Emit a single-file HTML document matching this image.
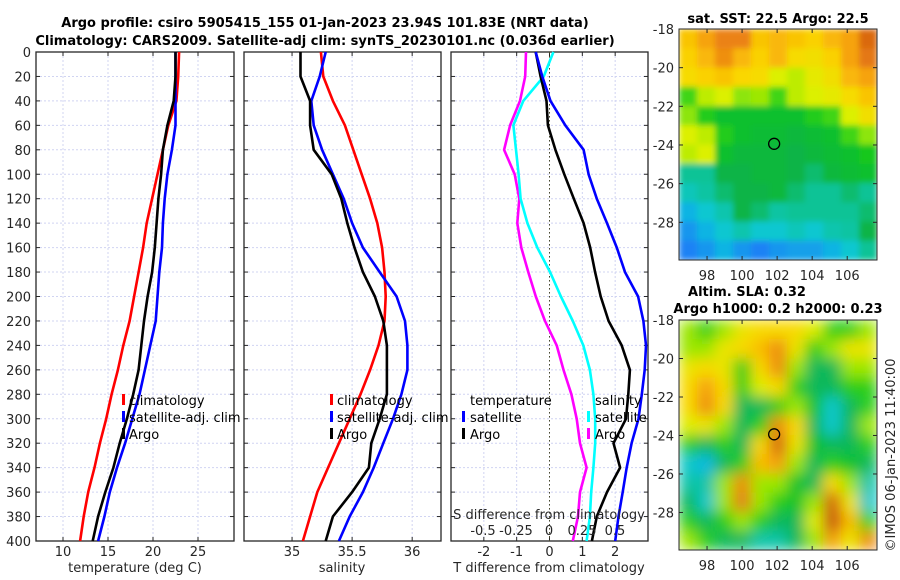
<!DOCTYPE html>
<html><head><meta charset="utf-8"><style>
html,body{margin:0;padding:0;background:#fff;}
svg{display:block;font-family:"DejaVu Sans","Liberation Sans",sans-serif;}
.tk{font-size:13px;fill:#262626;}
.ttl{font-size:13px;font-weight:bold;fill:#000;}
.lg{font-size:13px;fill:#000;}
</style></head><body>
<svg id="fig" width="900" height="580" viewBox="0 0 900 580" xmlns="http://www.w3.org/2000/svg">
<defs>
<filter id="blurS" x="0" y="0" width="1" height="1"><feGaussianBlur stdDeviation="3" edgeMode="duplicate"/></filter>
<filter id="blurL" x="0" y="0" width="1" height="1"><feGaussianBlur stdDeviation="7" edgeMode="duplicate"/></filter>
<clipPath id="c1"><rect x="679" y="29" width="198" height="231"/></clipPath>
<clipPath id="c2"><rect x="679" y="320" width="198" height="230"/></clipPath>
</defs>
<text class="ttl" x="325" y="27" text-anchor="middle">Argo profile: csiro 5905415_155 01-Jan-2023 23.94S 101.83E (NRT data)</text>
<text class="ttl" x="325" y="45" text-anchor="middle">Climatology: CARS2009. Satellite-adj clim: synTS_20230101.nc (0.036d earlier)</text>
<g id="root"></g>
</svg>
<script>
const depths=[0,20,40,60,80,100,120,140,160,180,200,220,240,260,280,300,320,340,360,380,400];
const tClim=[22.9,22.8,22.6,21.7,21.1,20.5,19.9,19.3,18.9,18.4,17.9,17.4,16.7,16.1,15.4,14.8,14.1,13.5,12.8,12.3,11.9];
const tSat=[22.5,22.5,22.5,22.5,22.1,21.6,21.3,21.1,21.0,20.7,20.5,20.3,19.7,19.1,18.5,17.7,16.9,16.0,15.2,14.6,13.9];
const tArgo=[22.5,22.5,22.3,21.6,21.1,20.9,20.6,20.4,20.2,19.9,19.4,19.0,18.7,18.4,17.8,17.1,16.3,15.6,14.7,13.9,13.3];
const sClim=[35.24,35.26,35.34,35.44,35.51,35.58,35.65,35.71,35.75,35.77,35.78,35.77,35.72,35.65,35.57,35.48,35.39,35.30,35.21,35.15,35.09];
const sSat=[35.28,35.23,35.16,35.18,35.25,35.34,35.43,35.50,35.59,35.73,35.87,35.94,35.96,35.96,35.91,35.84,35.76,35.68,35.59,35.48,35.39];
const sArgo=[35.07,35.07,35.15,35.15,35.18,35.33,35.41,35.46,35.52,35.59,35.69,35.76,35.79,35.79,35.79,35.73,35.66,35.64,35.50,35.34,35.28];
const dTsat=[-0.42,-0.22,0.03,0.48,1.04,1.19,1.44,1.75,2.05,2.3,2.7,2.86,2.94,2.9,2.81,2.71,2.5,2.35,2.23,2.1,2.0];
const dTargo=[-0.42,-0.27,-0.09,-0.05,0.18,0.45,0.74,1.04,1.24,1.39,1.56,1.8,2.2,2.45,2.4,2.33,1.95,2.15,1.75,1.44,1.29];
const dSsat=[0.033,-0.04,-0.195,-0.27,-0.25,-0.23,-0.215,-0.164,-0.089,0.008,0.09,0.18,0.26,0.31,0.336,0.35,0.35,0.336,0.32,0.31,0.285];
const dSargo=[-0.174,-0.18,-0.22,-0.295,-0.34,-0.26,-0.225,-0.24,-0.21,-0.157,-0.1,-0.03,0.058,0.11,0.17,0.21,0.235,0.285,0.235,0.22,0.18];
const depthTicks=[0,20,40,60,80,100,120,140,160,180,200,220,240,260,280,300,320,340,360,380,400];
const tTicks=[10,15,20,25];
const sTicks=[35,35.5,36];
const dtTicks=[-2,-1,0,1,2];
const dsTicks=[-0.5,-0.25,0,0.25,0.5];
const dsTickLabels=["-0.5","-0.25","0","0.25","0.5"];
const latTicks=[-18,-20,-22,-24,-26,-28];
const lonTicks=[98,100,102,104,106];
const sstGrid=[
[0.7,0.75,0.8,0.8,0.7,0.72,0.7,0.68,0.72,0.75,0.85],
[0.68,0.72,0.78,0.72,0.68,0.72,0.66,0.65,0.68,0.75,0.82],
[0.66,0.68,0.7,0.67,0.66,0.6,0.58,0.62,0.65,0.72,0.75],
[0.5,0.58,0.6,0.55,0.56,0.5,0.58,0.6,0.62,0.66,0.7],
[0.55,0.48,0.45,0.45,0.45,0.45,0.45,0.48,0.5,0.6,0.65],
[0.6,0.58,0.48,0.45,0.44,0.44,0.43,0.44,0.45,0.5,0.55],
[0.58,0.6,0.45,0.43,0.43,0.43,0.42,0.43,0.44,0.45,0.47],
[0.38,0.38,0.42,0.42,0.43,0.43,0.42,0.4,0.43,0.44,0.45],
[0.35,0.37,0.4,0.42,0.42,0.43,0.4,0.38,0.38,0.4,0.38],
[0.3,0.33,0.36,0.42,0.4,0.37,0.38,0.38,0.38,0.38,0.4],
[0.27,0.3,0.33,0.36,0.33,0.33,0.35,0.33,0.36,0.37,0.42],
[0.25,0.27,0.3,0.27,0.25,0.27,0.28,0.28,0.3,0.33,0.38]];
const slaGrid=[
[0.55,0.5,0.55,0.6,0.62,0.62,0.62,0.58,0.5,0.5,0.55],
[0.55,0.55,0.6,0.62,0.65,0.7,0.6,0.5,0.55,0.6,0.6],
[0.6,0.62,0.6,0.5,0.62,0.7,0.55,0.45,0.45,0.55,0.55],
[0.62,0.68,0.62,0.5,0.58,0.62,0.5,0.45,0.45,0.5,0.5],
[0.62,0.7,0.62,0.45,0.45,0.5,0.55,0.48,0.4,0.45,0.5],
[0.58,0.6,0.55,0.45,0.5,0.7,0.62,0.45,0.4,0.45,0.55],
[0.5,0.45,0.5,0.45,0.62,0.75,0.6,0.48,0.45,0.45,0.5],
[0.4,0.38,0.45,0.5,0.65,0.68,0.55,0.45,0.5,0.48,0.45],
[0.42,0.42,0.55,0.7,0.55,0.55,0.48,0.45,0.62,0.55,0.42],
[0.45,0.4,0.55,0.72,0.55,0.5,0.48,0.55,0.75,0.6,0.4],
[0.5,0.45,0.5,0.55,0.5,0.45,0.45,0.58,0.8,0.65,0.5],
[0.55,0.5,0.45,0.45,0.42,0.42,0.45,0.55,0.68,0.6,0.7]];
const argoLon=101.83, argoLat=-23.94;

const NS="http://www.w3.org/2000/svg";
const root=document.getElementById('root');
function mk(tag,attrs,parent){const e=document.createElementNS(NS,tag);for(const k in attrs)e.setAttribute(k,attrs[k]);(parent||root).appendChild(e);return e;}
const Y0=52,Y1=541;
const yD=d=>Y0+(d/400)*(Y1-Y0);
function panel(name,x0,x1,vmin,vmax){return {name,x0,x1,sx:v=>x0+(v-vmin)/(vmax-vmin)*(x1-x0)};}
const P1=panel('temperature-panel',36,234,7,29);
const P2=panel('salinity-panel',244,441,34.6,36.24);
const P3=panel('difference-panel',451,648,-3,3);
const sxS3=v=>549+v*132;

function frame(P,xt,xlabels,showY){
  const g=mk('g',{});
  
  
  xt.forEach(v=>{const x=P.sx(v);const l=mk('line',{x1:x,x2:x,y1:Y0,y2:Y1,stroke:'#d0d4f2','stroke-width':1,'stroke-dasharray':'2,2'},g);
    });
  depthTicks.forEach(d=>{const y=yD(d);const l=mk('line',{x1:P.x0,x2:P.x1,y1:y,y2:y,stroke:'#d0d4f2','stroke-width':1,'stroke-dasharray':'2,2'},g);
    
    mk('line',{x1:P.x0,x2:P.x0+4,y1:y,y2:y,stroke:'#262626'},g);
    mk('line',{x1:P.x1-4,x2:P.x1,y1:y,y2:y,stroke:'#262626'},g);
    if(showY){const t=mk('text',{x:P.x0-5,y:y+5,'text-anchor':'end',class:'tk'},g);t.textContent=d;
      }
  });
  xt.forEach((v,i)=>{const x=P.sx(v);mk('line',{x1:x,x2:x,y1:Y1,y2:Y1-4,stroke:'#262626'},g);mk('line',{x1:x,x2:x,y1:Y0,y2:Y0+4,stroke:'#262626'},g);
    const t=mk('text',{x:x,y:556,'text-anchor':'middle',class:'tk'},g);t.textContent=xlabels[i];
    });
  const r=mk('rect',{x:P.x0,y:Y0,width:P.x1-P.x0,height:Y1-Y0,fill:'none',stroke:'#262626','stroke-width':1.3},g);
  
  return g;
}
function line(vals,sx,color,name,w){
  const pts=vals.map((v,i)=>sx(v).toFixed(1)+','+yD(depths[i]).toFixed(1)).join(' ');
  const p=mk('polyline',{points:pts,fill:'none',stroke:color,'stroke-width':w||2.6,'stroke-linejoin':'round'});
  
  
}
function txt(x,y,s,cls,name,anchor){const t=mk('text',{x,y,class:cls,'text-anchor':anchor||'start'});t.textContent=s;
  return t;}
function legBar(x,y,color,name){const r=mk('rect',{x:x,y:y-11,width:3,height:11,fill:color});
  }

frame(P1,tTicks,tTicks.map(String),true);
frame(P2,sTicks,sTicks.map(String),false);
frame(P3,dtTicks,dtTicks.map(String),false);
const zl=mk('line',{x1:P3.sx(0),x2:P3.sx(0),y1:Y0,y2:Y1,stroke:'#4a4a2a','stroke-width':1,'stroke-dasharray':'1.5,2.5'});


line(tClim,P1.sx,'#ff0000','temp-climatology-line');
line(tSat,P1.sx,'#0000ff','temp-satellite-line');
line(tArgo,P1.sx,'#000000','temp-argo-line');
line(sClim,P2.sx,'#ff0000','sal-climatology-line');
line(sSat,P2.sx,'#0000ff','sal-satellite-line');
line(sArgo,P2.sx,'#000000','sal-argo-line');
line(dSargo,sxS3,'#ff00ff','sdiff-argo-line');
line(dSsat,sxS3,'#00ffff','sdiff-satellite-line');
line(dTargo,P3.sx,'#000000','tdiff-argo-line');
line(dTsat,P3.sx,'#0000ff','tdiff-satellite-line');

[[122,'#ff0000','climatology',405],[122,'#0000ff','satellite-adj. clim',422],[122,'#000','Argo',439]].forEach(a=>{legBar(a[0],a[3],a[1],'temp-legend-marker');txt(a[0]+7,a[3],a[2],'lg','temp-legend-entry');});
[[330,'#ff0000','climatology',405],[330,'#0000ff','satellite-adj. clim',422],[330,'#000','Argo',439]].forEach(a=>{legBar(a[0],a[3],a[1],'sal-legend-marker');txt(a[0]+7,a[3],a[2],'lg','sal-legend-entry');});
txt(470,405,'temperature','lg','diff-legend-temperature-header');
legBar(462,422,'#0000ff','diff-legend-marker');txt(470,422,'satellite','lg','diff-legend-entry');
legBar(462,439,'#000','diff-legend-marker');txt(470,439,'Argo','lg','diff-legend-entry');
txt(595,405,'salinity','lg','diff-legend-salinity-header');
legBar(587,422,'#00ffff','diff-legend-marker');txt(595,422,'satellite','lg','diff-legend-entry');
legBar(587,439,'#ff00ff','diff-legend-marker');txt(595,439,'Argo','lg','diff-legend-entry');
txt(549,519,'S difference from climatology','tk','s-diff-axis-title','middle');
dsTicks.forEach((v,i)=>txt(sxS3(v),535,dsTickLabels[i],'tk','s-diff-tick-label','middle'));

txt(135,572,'temperature (deg C)','tk','temperature-axis-title','middle');
txt(342,572,'salinity','tk','salinity-axis-title','middle');
txt(549,572,'T difference from climatology','tk','t-diff-axis-title','middle');

const stops=[[0.15,[10,40,220]],[0.25,[30,130,245]],[0.32,[10,200,220]],[0.38,[10,195,150]],[0.42,[10,180,70]],[0.47,[20,200,30]],[0.53,[110,225,10]],[0.6,[220,240,0]],[0.67,[250,215,0]],[0.74,[248,170,10]],[0.8,[235,130,20]],[0.9,[200,80,10]]];
function cmap(v){if(v<=stops[0][0])return 'rgb('+stops[0][1]+')';
  for(let i=1;i<stops.length;i++){if(v<=stops[i][0]){const a=stops[i-1],b=stops[i],t=(v-a[0])/(b[0]-a[0]);
    return 'rgb('+a[1].map((c,k)=>Math.round(c+(b[1][k]-c)*t)).join(',')+')';}}
  return 'rgb('+stops[stops.length-1][1]+')';}
function map(name,grid,x0,y0,w,h,filt,clip,contrast){
  const lonMin=96.4,lonMax=107.7,latTop=-18,latBot=-29.95;
  const mx=lon=>x0+(lon-lonMin)/(lonMax-lonMin)*w;
  const my=lat=>y0+(latTop-lat)/(latTop-latBot)*h;
  const g=mk('g',{});
  
  
  const cg=mk('g',{'clip-path':'url(#'+clip+')'},g);
  const ig=mk('g',{filter:'url(#'+filt+')'},cg);
  const rows=grid.length,cols=grid[0].length,cw=w/cols,ch=h/rows;
  grid.forEach((row,r)=>row.forEach((v,c)=>{const e=mk('rect',{x:x0+c*cw,y:y0+r*ch,width:cw+0.5,height:ch+0.5,fill:cmap(0.53+(v-0.53)*contrast)},ig);
    }));
  mk('rect',{x:x0,y:y0,width:w,height:h,fill:'none',stroke:'#262626','stroke-width':1},g);
  latTicks.forEach(l=>{const y=my(l);mk('line',{x1:x0,x2:x0+4,y1:y,y2:y,stroke:'#262626'},g);mk('line',{x1:x0+w-4,x2:x0+w,y1:y,y2:y,stroke:'#262626'},g);
    const t=mk('text',{x:x0-5,y:y+5,'text-anchor':'end',class:'tk'},g);t.textContent=l;
    });
  lonTicks.forEach(l=>{const x=mx(l);mk('line',{x1:x,x2:x,y1:y0+h,y2:y0+h-4,stroke:'#262626'},g);mk('line',{x1:x,x2:x,y1:y0,y2:y0+4,stroke:'#262626'},g);
    const t=mk('text',{x:x,y:y0+h+20,'text-anchor':'middle',class:'tk'},g);t.textContent=l;
    });
  const c=mk('circle',{cx:mx(argoLon),cy:my(argoLat),r:5.5,fill:'none',stroke:'#000','stroke-width':1.3},g);
  
}
map('sst-map',sstGrid,679,29,198,231,'blurS','c1',1.0);
map('sla-map',slaGrid,679,320,198,230,'blurL','c2',1.5);
txt(778,23,'sat. SST: 22.5 Argo: 22.5','ttl','sst-map-title','middle');
txt(747,296,'Altim. SLA: 0.32','ttl','sla-map-title','middle');
txt(778,313,'Argo h1000: 0.2 h2000: 0.23','ttl','sla-map-subtitle','middle');
const cr=txt(0,0,'©IMOS 06-Jan-2023 11:40:00','tk','imos-timestamp','middle');
cr.setAttribute('transform','translate(895,455) rotate(-90)');
</script>
</body></html>
